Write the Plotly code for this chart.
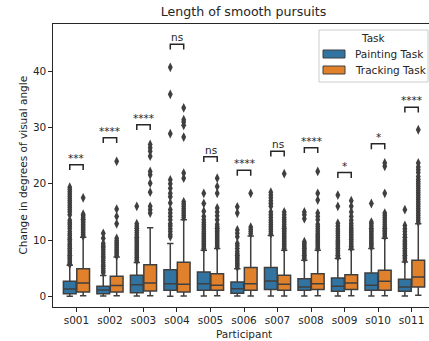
import plotly.graph_objects as go

participants = ["s001", "s002", "s003", "s004", "s005", "s006", "s007", "s008", "s009", "s010", "s011"]

# Painting Task box statistics
paint_q1 = [0.47, 0.45, 0.65, 1.07, 1.07, 0.55, 1.19, 1.07, 0.89, 1.07, 0.89]
paint_med = [1.30, 1.10, 2.07, 2.25, 2.25, 1.36, 2.73, 1.66, 1.78, 1.96, 1.66]
paint_q3 = [2.67, 1.80, 3.73, 4.74, 4.33, 2.55, 5.10, 3.14, 3.26, 4.15, 3.02]
paint_lo = [0.00, 0.05, 0.05, 0.02, 0.05, 0.05, 0.05, 0.05, 0.05, 0.05, 0.05]
paint_hi = [5.5, 3.7, 6.0, 9.4, 8.2, 4.9, 10.8, 6.4, 6.7, 8.5, 6.1]

# Tracking Task box statistics
track_q1 = [0.77, 0.77, 0.95, 0.77, 1.07, 1.07, 1.07, 1.19, 1.19, 1.07, 1.66]
track_med = [2.37, 1.90, 2.37, 2.13, 1.96, 2.25, 2.13, 2.25, 2.37, 2.67, 3.44]
track_q3 = [4.92, 3.56, 5.63, 6.04, 4.03, 5.10, 3.73, 4.03, 3.85, 4.62, 6.40]
track_lo = [0.10, 0.10, 0.10, 0.05, 0.10, 0.05, 0.05, 0.10, 0.10, 0.10, 0.20]
track_hi = [10.5, 7.0, 12.2, 13.6, 8.5, 10.7, 8.2, 8.2, 8.3, 10.3, 12.9]

# Outliers
paint_out = [
    [5.7, 5.9, 6.2, 6.5, 6.8, 7.0, 7.3, 7.6, 7.9, 8.2, 8.5, 8.8, 9.1, 9.4, 9.8, 10.1, 10.4, 10.8, 11.1,
     11.5, 12.0, 12.4, 12.8, 13.1, 13.5, 14.5, 15.0, 15.4, 15.8, 16.2, 16.6, 17.0, 17.4, 17.8, 18.2,
     18.6, 19.0, 19.4],
    [4.2, 4.5, 4.9, 5.3, 5.6, 6.0, 6.4, 6.8, 7.1, 7.5, 7.9, 8.3, 8.7, 9.0, 9.4, 10.3, 11.2],
    [6.3, 6.6, 6.9, 7.2, 7.5, 7.8, 8.1, 8.4, 8.7, 9.0, 9.3, 9.6, 9.9, 10.2, 10.5, 10.9, 11.3, 11.7,
     12.1, 12.5, 12.9, 16.0],
    [10.6, 11.0, 11.5, 12.0, 12.5, 12.9, 13.6, 14.2, 14.8, 15.4, 16.6, 17.7, 18.3, 19.2, 20.0, 20.7,
     28.9, 35.9, 40.7],
    [8.5, 8.8, 9.1, 9.4, 9.7, 10.0, 10.3, 10.6, 10.9, 11.2, 11.5, 11.9, 12.3, 12.7, 13.1, 13.6, 14.2,
     15.1, 16.5, 18.3],
    [5.2, 5.5, 5.8, 6.1, 6.4, 6.7, 7.0, 7.3, 7.6, 8.0, 8.5, 9.0, 9.4, 10.6, 11.2, 11.8, 14.8, 15.9],
    [11.1, 11.5, 11.9, 12.3, 12.7, 13.1, 13.5, 14.0, 14.5, 15.0, 16.0, 16.5, 17.0, 17.5, 18.0, 18.5],
    [6.7, 7.0, 7.3, 7.6, 7.9, 8.2, 8.5, 8.8, 9.1, 9.4, 9.7, 13.8, 14.5, 15.0],
    [7.0, 7.3, 7.6, 7.9, 8.2, 8.5, 8.8, 9.1, 9.4, 9.7, 10.0, 10.4, 10.8, 11.2, 11.6, 12.0, 12.5, 13.0,
     16.0, 18.0],
    [8.8, 9.1, 9.4, 9.7, 10.0, 10.3, 10.6, 10.9, 11.2, 11.5, 11.8, 12.1, 12.5, 12.9, 13.2, 16.5],
    [6.4, 6.7, 7.0, 7.3, 7.6, 7.9, 8.2, 8.5, 8.8, 9.1, 9.4, 9.7, 10.0, 10.5, 11.0, 11.5, 12.0, 12.6,
     15.4],
]
track_out = [
    [10.7, 11.0, 11.3, 11.6, 11.9, 12.2, 12.5, 12.8, 13.1, 13.4, 13.7, 14.0, 14.3, 14.6, 17.5],
    [7.2, 7.5, 7.8, 8.1, 8.4, 8.7, 9.0, 9.3, 9.6, 9.9, 10.3, 12.9, 14.2, 15.5, 24.0],
    [14.8, 15.4, 16.0, 18.5, 20.1, 21.6, 22.2, 24.9, 25.8, 26.4, 27.0],
    [14.0, 14.4, 14.8, 15.2, 15.6, 16.0, 16.4, 16.8, 21.0, 21.9, 28.3, 30.4, 31.0, 31.4, 33.5],
    [8.8, 9.1, 9.4, 9.7, 10.0, 10.3, 10.6, 10.9, 11.2, 11.5, 11.8, 12.1, 12.4, 12.8, 13.6, 14.3, 15.0,
     15.7, 18.3, 19.5, 21.0],
    [11.1, 11.5, 11.9, 12.3, 18.3],
    [8.5, 8.8, 9.1, 9.4, 9.7, 10.0, 10.3, 10.6, 10.9, 11.2, 11.5, 11.8, 12.1, 12.4, 12.8, 13.2, 13.6,
     14.0, 14.5, 15.0, 21.8],
    [8.5, 8.8, 9.1, 9.4, 9.7, 10.0, 10.3, 10.6, 10.9, 11.2, 11.6, 12.0, 12.4, 12.8, 13.6, 14.2, 14.8,
     17.1, 18.3, 22.2],
    [8.6, 8.9, 9.2, 9.5, 9.8, 10.1, 10.4, 10.7, 11.0, 11.3, 11.6, 11.9, 12.2, 12.6, 13.0, 13.5, 14.2,
     15.0, 16.0, 17.0],
    [10.6, 10.9, 11.2, 11.5, 11.8, 12.1, 12.4, 12.8, 13.2, 13.6, 14.0, 14.4, 14.8, 18.3, 23.1, 23.7],
    [13.2, 13.6, 14.0, 14.4, 14.8, 15.2, 15.6, 16.0, 16.4, 16.8, 17.2, 17.6, 18.0, 18.4, 18.8, 19.2,
     19.6, 20.0, 20.4, 20.8, 21.3, 22.0, 22.5, 23.0, 23.7, 29.6],
]

# Significance annotations
sig_labels = ["***", "****", "****", "ns", "ns", "****", "ns", "****", "*", "*", "****"]
sig_heights = [23.4, 28.2, 30.5, 44.8, 24.8, 22.4, 25.8, 26.4, 22.0, 27.1, 33.6]

task_names = ["Painting Task", "Tracking Task"]
task_colors = ["#3274a1", "#e1812c"]

LINE = "#3f3f3f"
TXT = "#262626"
FONT = "DejaVu Sans"

fig = go.Figure()
stats = [
    (paint_q1, paint_med, paint_q3, paint_lo, paint_hi, paint_out),
    (track_q1, track_med, track_q3, track_lo, track_hi, track_out),
]
for name, color, (q1, med, q3, lo, hi, out) in zip(task_names, task_colors, stats):
    fig.add_trace(go.Box(
        name=name,
        x=participants,
        y=out,
        q1=q1, median=med, q3=q3, lowerfence=lo, upperfence=hi,
        boxpoints="outliers", jitter=0, pointpos=0,
        fillcolor=color,
        line=dict(color=LINE, width=1.5),
        whiskerwidth=0.5,
        marker=dict(symbol="diamond-tall", size=7, color=LINE, line=dict(width=0)),
        showlegend=False,
    ))

# significance brackets
for i, (lab, h) in enumerate(zip(sig_labels, sig_heights)):
    fig.add_shape(type="path",
                  path=f"M {i-0.2},{h-0.95} L {i-0.2},{h} L {i+0.2},{h} L {i+0.2},{h-0.95}",
                  xref="x", yref="y", line=dict(color=TXT, width=1.5))
    fig.add_annotation(x=i, y=h, xref="x", yref="y", text=lab, showarrow=False,
                       xanchor="center", yanchor="bottom", yshift=-1,
                       font=dict(family=FONT, size=10.5, color=TXT))

# manual legend
L0, T0, W, H = 53, 24, 376, 283
def px(xp):
    return (xp - L0) / W
def py(yp):
    return (T0 + H - yp) / H

fig.add_shape(type="rect", xref="paper", yref="paper",
              x0=px(319), x1=px(428), y0=py(82), y1=py(30),
              line=dict(color="#cccccc", width=1), fillcolor="rgba(255,255,255,0.8)")
fig.add_annotation(xref="paper", yref="paper", x=px(373), y=py(38), text="Task",
                   xanchor="center", yanchor="middle",
                   showarrow=False, font=dict(family=FONT, size=10.5, color=TXT))
for k, (name, color) in enumerate(zip(task_names, task_colors)):
    yc = 54 + 16 * k
    fig.add_shape(type="rect", xref="paper", yref="paper",
                  x0=px(323), x1=px(345), y0=py(yc + 4), y1=py(yc - 4),
                  line=dict(color=LINE, width=1), fillcolor=color)
    fig.add_annotation(xref="paper", yref="paper", x=px(353), y=py(yc), text=name,
                       xanchor="left", yanchor="middle", showarrow=False,
                       font=dict(family=FONT, size=10.5, color=TXT))

# axis titles
fig.add_annotation(xref="paper", yref="paper", x=px(243.5), y=py(334), text="Participant",
                   xanchor="center", yanchor="middle",
                   showarrow=False, font=dict(family=FONT, size=10.5, color=TXT))
fig.add_annotation(xref="paper", yref="paper", x=px(22), y=py(165.5),
                   text="Change in degrees of visual angle", textangle=-90,
                   xanchor="center", yanchor="middle",
                   showarrow=False, font=dict(family=FONT, size=10.5, color=TXT))

fig.update_layout(
    width=429, height=341,
    margin=dict(l=L0, r=0, t=T0, b=341 - T0 - H, pad=0),
    paper_bgcolor="white", plot_bgcolor="white",
    boxmode="group", boxgap=0.2, boxgroupgap=0.05,
    font=dict(family=FONT, size=10.5, color=TXT),
    title=dict(text="Length of smooth pursuits", x=243.5 / 429, xref="container", xanchor="center",
               y=1 - 12 / 341, yref="container", yanchor="middle",
               font=dict(family=FONT, size=12.6, color=TXT)),
    xaxis=dict(type="category", range=[-0.7, 10.52], showline=True, mirror=True,
               linecolor=TXT, linewidth=1.2, ticks="outside", ticklen=3.5, tickwidth=1.1,
               tickcolor=TXT, showgrid=False, zeroline=False,
               tickfont=dict(family=FONT, size=10.5, color=TXT)),
    yaxis=dict(range=[-1.9, 48.4], showline=True, linecolor=TXT, linewidth=1.2,
               ticks="outside", ticklen=3.5, tickwidth=1.1, tickcolor=TXT,
               tickvals=[0, 10, 20, 30, 40], showgrid=False, zeroline=False,
               tickfont=dict(family=FONT, size=10.5, color=TXT)),
)

fig.write_html("out.html")
